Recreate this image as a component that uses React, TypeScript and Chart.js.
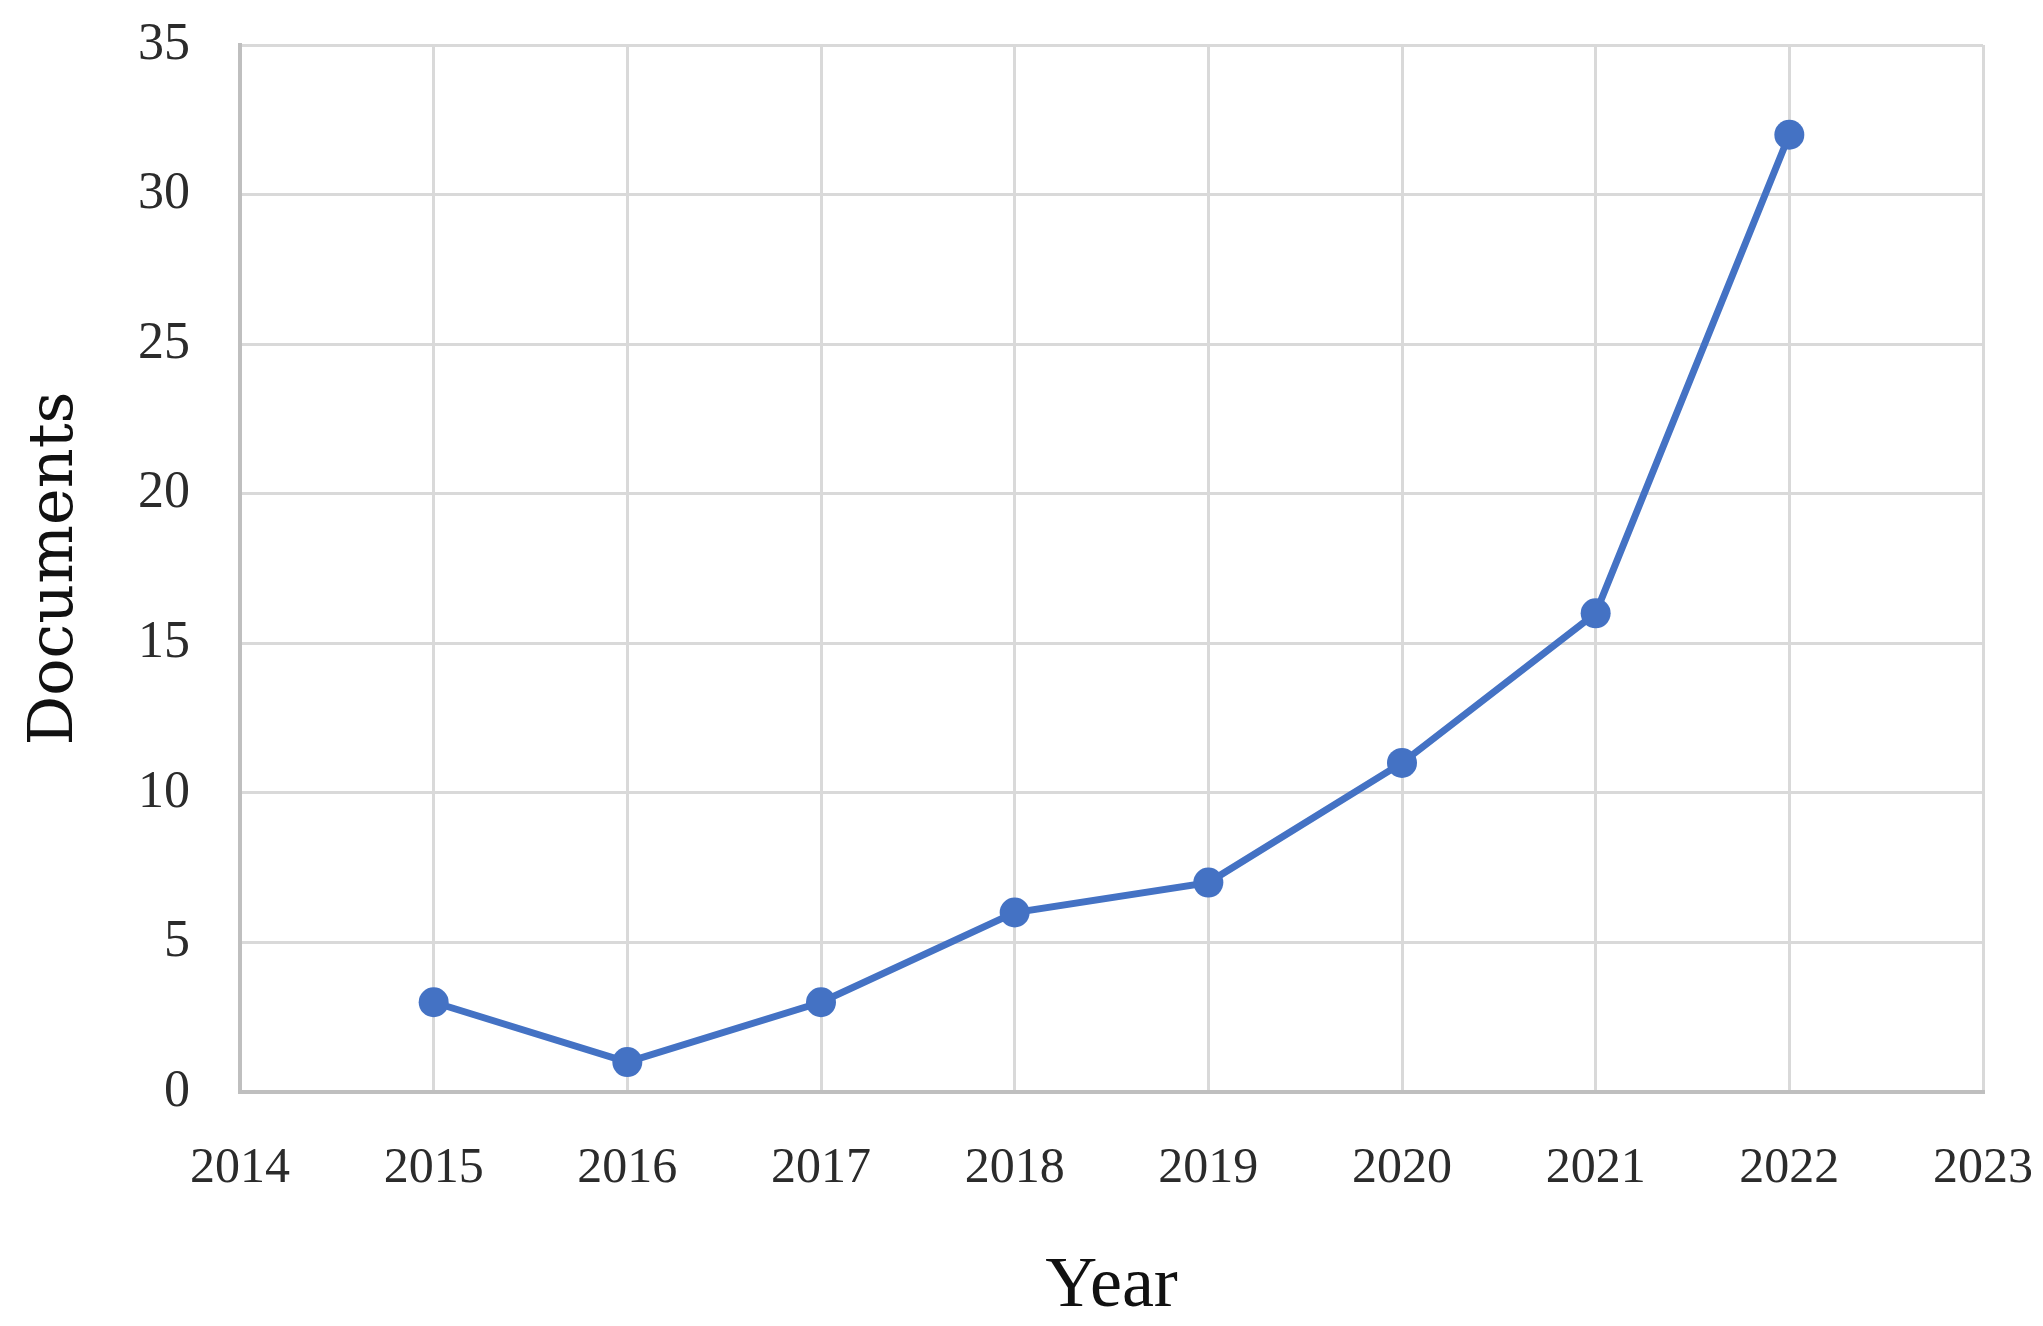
import React, { useEffect, useRef } from "react";
import { Chart, registerables } from "chart.js";

Chart.register(...registerables);

const years = [2015, 2016, 2017, 2018, 2019, 2020, 2021, 2022];
const documents = [3, 1, 3, 6, 7, 11, 16, 32];
const xMin = 2014;
const xMax = 2023;
const yMin = 0;
const yMax = 35;
const yStep = 5;
const xTitle = "Year";
const yTitle = "Documents";

const W = 2043;
const H = 1326;

function zeroPad(s: any) {
  s.paddingTop = 0;
  s.paddingBottom = 0;
  s.paddingLeft = 0;
  s.paddingRight = 0;
}

export default function App() {
  const ref = useRef<HTMLCanvasElement | null>(null);

  useEffect(() => {
    if (!ref.current) return;
    const chart = new Chart(ref.current, {
      type: "line",
      data: {
        datasets: [
          {
            label: yTitle,
            data: years.map((y, i) => ({ x: y, y: documents[i] })),
            borderColor: "#4472C4",
            backgroundColor: "#4472C4",
            borderWidth: 7,
            pointRadius: 15,
            pointHoverRadius: 15,
            pointBorderWidth: 0,
            tension: 0,
          },
        ],
      },
      options: {
        responsive: false,
        animation: false,
        devicePixelRatio: 1,
        layout: { padding: { top: 45, right: 60, left: 0, bottom: 0 } },
        plugins: { legend: { display: false }, tooltip: { enabled: false } },
        scales: {
          x: {
            type: "linear",
            min: xMin,
            max: xMax,
            afterFit: (s: any) => {
              s.height = H - 1092;
              zeroPad(s);
            },
            ticks: {
              stepSize: 1,
              padding: 52,
              color: "#2b2b2b",
              font: { family: "'Liberation Serif', 'Times New Roman', serif", size: 50, lineHeight: 1 },
              callback: (v: any) => String(v),
              maxRotation: 0,
              autoSkip: false,
            },
            grid: { color: "#d9d9d9", lineWidth: 3, drawTicks: false },
            border: { color: "#bfbfbf", width: 4 },
            title: {
              display: true,
              text: xTitle,
              color: "#111111",
              font: { family: "'Liberation Serif', 'Times New Roman', serif", size: 72, lineHeight: 1 },
              padding: { top: 0, bottom: 3 },
            },
          },
          y: {
            min: yMin,
            max: yMax,
            afterFit: (s: any) => {
              s.width = 240;
              zeroPad(s);
            },
            ticks: {
              stepSize: yStep,
              padding: 50,
              color: "#2b2b2b",
              font: { family: "'Liberation Serif', 'Times New Roman', serif", size: 52, lineHeight: 1 },
            },
            grid: { color: "#d9d9d9", lineWidth: 3, drawTicks: false },
            border: { color: "#bfbfbf", width: 4 },
            title: {
              display: true,
              text: yTitle,
              color: "#111111",
              font: { family: "'DejaVu Serif', serif", size: 62, lineHeight: 1 },
              padding: { top: 25, bottom: 0 },
            },
          },
        },
      },
    });
    return () => chart.destroy();
  }, []);

  return (
    <div style={{ position: "absolute", left: 0, top: 0, width: W, height: H, background: "#fff" }}>
      <canvas ref={ref} width={W} height={H} style={{ display: "block", width: W, height: H }} />
    </div>
  );
}
